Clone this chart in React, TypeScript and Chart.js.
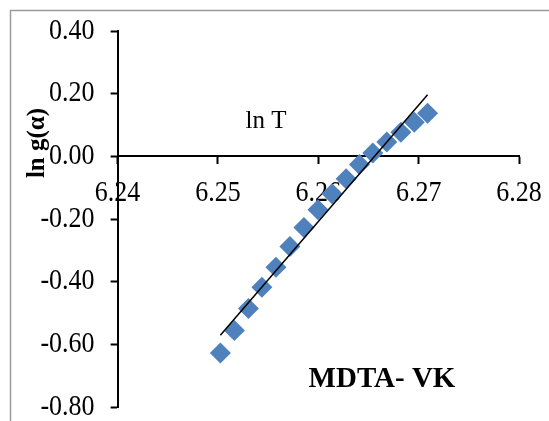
import React, { useEffect, useRef } from "react";
import { Chart, registerables } from "chart.js";

Chart.register(...registerables);

// ---- data ----
const lnT = [
  6.25024, 6.25164, 6.25304, 6.25438, 6.25578, 6.25717, 6.25857, 6.25997,
  6.26137, 6.26277, 6.2641, 6.26543, 6.26683, 6.26823, 6.26956, 6.27089,
];
const lnG = [
  -0.627, -0.555, -0.485, -0.417, -0.353, -0.287, -0.227, -0.17,
  -0.119, -0.071, -0.026, 0.011, 0.046, 0.077, 0.109, 0.138,
];
const xTicks = [6.24, 6.25, 6.26, 6.27, 6.28];
const yTicks = [0.4, 0.2, 0.0, -0.2, -0.4, -0.6, -0.8];
const xTitle = "ln T";
const yTitle = "ln g(α)";
const chartLabel = "MDTA- VK";

// Linear trendline (least squares) through the series, as Excel does
function trendline(xs: number[], ys: number[]) {
  const n = xs.length;
  const mx = xs.reduce((a, b) => a + b, 0) / n;
  const my = ys.reduce((a, b) => a + b, 0) / n;
  let sxy = 0;
  let sxx = 0;
  for (let i = 0; i < n; i++) {
    sxy += (xs[i] - mx) * (ys[i] - my);
    sxx += (xs[i] - mx) * (xs[i] - mx);
  }
  const b = sxy / sxx;
  const a = my - b * mx;
  const x0 = Math.min(...xs);
  const x1 = Math.max(...xs);
  return [
    { x: x0, y: a + b * x0 },
    { x: x1, y: a + b * x1 },
  ];
}

const FONT = "'Liberation Serif', 'Times New Roman', serif";
const TICK_FONT = `26px ${FONT}`;
const STRETCH = 1.1;

function drawStretched(ctx: any, text: string, x: number, y: number) {
  ctx.save();
  ctx.translate(x, y);
  ctx.scale(1, STRETCH);
  ctx.fillText(text, 0, 0);
  ctx.restore();
}

const textPlugin = {
  id: "customText",
  beforeDraw(chart: any) {
    const ctx = chart.ctx;
    ctx.save();
    ctx.strokeStyle = "#9a9a9a";
    ctx.lineWidth = 1.5;
    ctx.strokeRect(10.5, 10.5, 700, 600);
    ctx.restore();
  },
  beforeDatasetsDraw(chart: any) {
    // tick labels drawn from the chart's own scales, beneath the markers
    const ctx = chart.ctx;
    const xs = chart.scales.x;
    const ys = chart.scales.y;
    const yZero = ys.getPixelForValue(0);
    ctx.save();
    ctx.fillStyle = "#000";
    ctx.font = TICK_FONT;
    ctx.textBaseline = "middle";
    ctx.textAlign = "right";
    yTicks.forEach((v) => {
      drawStretched(ctx, v.toFixed(2), ys.left + ys.width - 23, ys.getPixelForValue(v));
    });
    ctx.textAlign = "center";
    xTicks.forEach((v) => {
      drawStretched(ctx, v.toFixed(2), xs.getPixelForValue(v), yZero + 37.5);
    });
    ctx.font = `25px ${FONT}`;
    ctx.fillText(xTitle, 266, 121);
    ctx.font = `bold 29px ${FONT}`;
    ctx.fillText(chartLabel, 382, 380);
    ctx.translate(38, 143);
    ctx.rotate(-Math.PI / 2);
    ctx.font = `bold 25px ${FONT}`;
    ctx.fillText(yTitle, 0, 0);
    ctx.restore();
  },
};

export default function App() {
  const ref = useRef<HTMLCanvasElement | null>(null);

  useEffect(() => {
    document.body.style.margin = "0";
    const canvas = ref.current;
    if (!canvas) return;
    const points = lnT.map((x, i) => ({ x, y: lnG[i] }));
    const chart = new Chart(canvas, {
      type: "scatter",
      data: {
        datasets: [
          {
            type: "line",
            data: trendline(lnT, lnG),
            borderColor: "#000",
            borderWidth: 1.5,
            pointRadius: 0,
            fill: false,
            order: 0,
          } as any,
          {
            data: points,
            pointStyle: "rectRot",
            pointRadius: 10.5,
            pointHoverRadius: 10.5,
            backgroundColor: "#4f81bd",
            borderColor: "#4f81bd",
            borderWidth: 0,
            showLine: false,
            order: 1,
          },
        ],
      },
      options: {
        responsive: false,
        animation: false,
        events: [],
        layout: { padding: { left: 0, top: 31, right: 30, bottom: 13.7 } },
        plugins: {
          legend: { display: false },
          tooltip: { enabled: false },
          title: { display: false },
        },
        scales: {
          x: {
            type: "linear",
            position: { y: 0 } as any,
            min: 6.24,
            max: 6.28,
            afterBuildTicks: (s: any) => {
              s.ticks = xTicks.map((v) => ({ value: v }));
            },
            afterFit: (s: any) => {
              s.height = 0;
              s.paddingLeft = 0;
              s.paddingRight = 0;
              s.paddingTop = 0;
              s.paddingBottom = 0;
            },
            grid: {
              drawOnChartArea: false,
              drawTicks: true,
              tickLength: 7,
              tickWidth: 2,
              tickColor: "#000",
              color: "#000",
            },
            border: { display: true, color: "#000", width: 2 },
            ticks: { display: false },
          },
          y: {
            type: "linear",
            position: "left",
            min: -0.8,
            max: 0.4,
            afterBuildTicks: (s: any) => {
              s.ticks = yTicks.map((v) => ({ value: v }));
            },
            afterFit: (s: any) => {
              s.width = 117.6;
              s.paddingLeft = 0;
              s.paddingRight = 0;
              s.paddingTop = 0;
              s.paddingBottom = 0;
            },
            grid: {
              drawOnChartArea: false,
              drawTicks: true,
              tickLength: 7,
              tickWidth: 2,
              tickColor: "#000",
              color: "#000",
            },
            border: { display: true, color: "#000", width: 2 },
            ticks: { display: false },
          },
        },
      },
      plugins: [textPlugin],
    });
    return () => chart.destroy();
  }, []);

  return (
    <div style={{ width: 549, height: 421 }}>
      <canvas ref={ref} width={549} height={421} style={{ display: "block" }} />
    </div>
  );
}
